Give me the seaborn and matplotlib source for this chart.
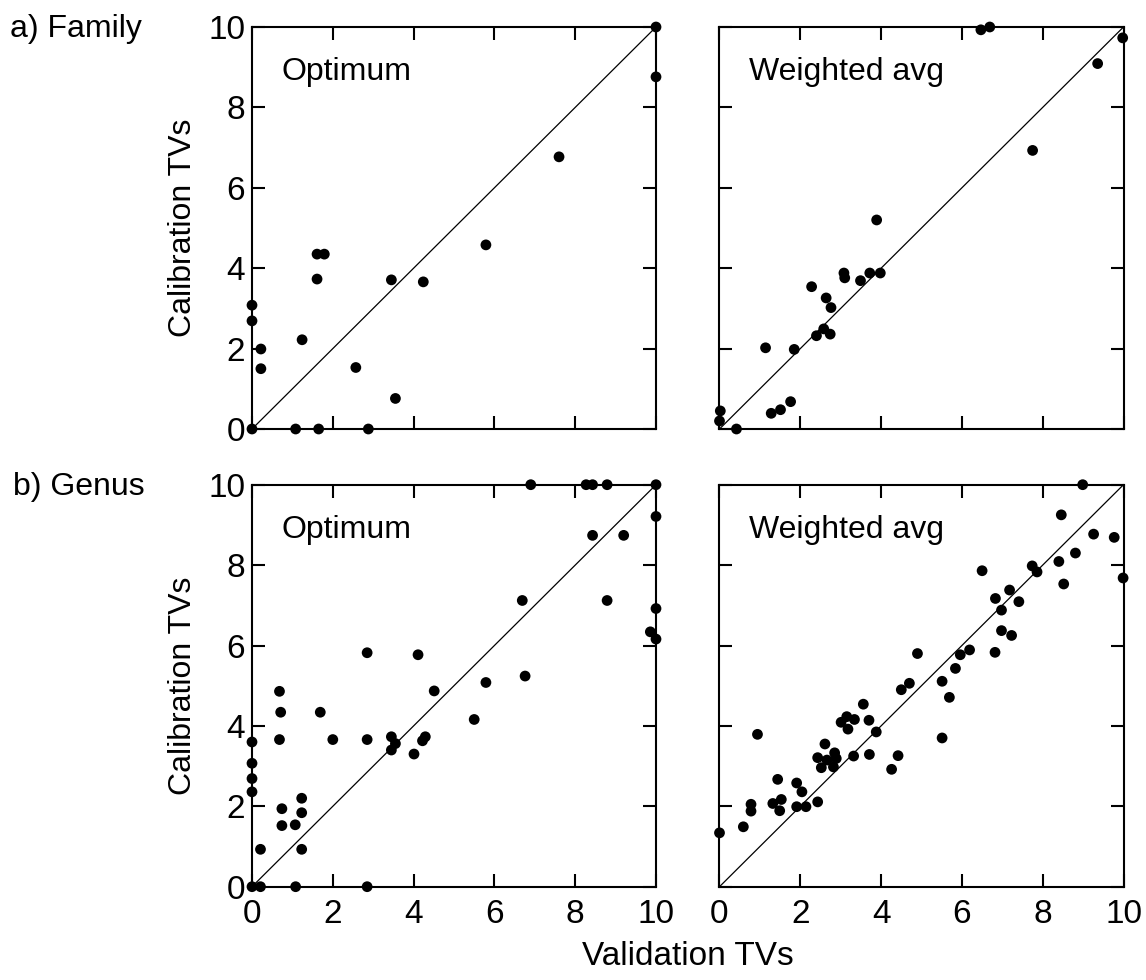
import numpy as np
import pandas as pd
import matplotlib
matplotlib.use("Agg")
import matplotlib.pyplot as plt
import seaborn as sns

# Family level, optimum method (validation vs calibration tolerance values)
fam_opt_val = [0, 1.08, 1.65, 2.88, 0, 0, 0.22, 0.22, 1.24, 1.61, 1.79, 1.61,
               2.57, 3.45, 3.55, 4.24, 5.79, 7.60, 10, 10]
fam_opt_cal = [0, 0, 0, 0, 3.08, 2.69, 1.99, 1.50, 2.22, 4.35, 4.35, 3.73,
               1.53, 3.71, 0.76, 3.66, 4.58, 6.77, 10, 8.76]

# Family level, weighted average method
fam_wa_val = [6.47, 6.69, 9.98, 9.36, 7.75, 3.89, 3.08, 3.10, 3.72, 3.98, 3.49,
              2.28, 2.64, 2.76, 2.58, 2.40, 2.74, 1.14, 1.85, 1.76, 1.51, 1.28,
              0.02, 0, 0.42]
fam_wa_cal = [9.93, 10.0, 9.73, 9.09, 6.93, 5.20, 3.88, 3.76, 3.88, 3.88, 3.69,
              3.54, 3.26, 3.02, 2.49, 2.32, 2.36, 2.02, 1.98, 0.68, 0.48, 0.39,
              0.45, 0.20, 0]

# Genus level, optimum method
gen_opt_val = [0, 0.21, 1.08, 2.85, 0.21, 0, 0, 0, 0, 0.68, 0.71, 0.68, 0.74,
               0.74, 1.07, 1.23, 1.23, 1.23, 1.69, 2.0, 2.85, 2.85, 3.45, 3.45,
               3.55, 4.01, 4.11, 4.22, 4.29, 4.51, 5.50, 5.79, 6.69, 6.76, 6.90,
               8.27, 8.43, 8.79, 8.43, 9.20, 8.79, 10, 10, 10, 9.86, 10]
gen_opt_cal = [0, 0, 0, 0, 0.93, 3.60, 3.07, 2.69, 2.36, 4.86, 4.34, 3.66, 1.94,
               1.52, 1.54, 2.20, 1.84, 0.93, 4.34, 3.66, 5.82, 3.66, 3.73, 3.40,
               3.56, 3.30, 5.77, 3.63, 3.73, 4.87, 4.16, 5.08, 7.12, 5.24, 10.0,
               10.0, 10.0, 10.0, 8.74, 8.74, 7.12, 10, 9.21, 6.92, 6.34, 6.16]

# Genus level, weighted average method
gen_wa_val = [0, 0.59, 0.78, 0.78, 0.94, 1.32, 1.53, 1.49, 1.44, 1.91, 2.04,
              1.91, 2.14, 2.43, 2.43, 2.52, 2.61, 2.66, 2.85, 2.89, 2.82, 3.01,
              3.15, 3.34, 3.18, 3.32, 3.56, 3.70, 3.71, 3.88, 4.26, 4.42, 4.50,
              4.70, 4.90, 5.51, 5.51, 5.69, 5.84, 5.96, 6.19, 6.50, 6.82, 6.83,
              6.98, 6.98, 7.23, 7.18, 7.41, 7.74, 7.86, 8.40, 8.52, 8.46, 8.81,
              8.99, 9.26, 9.77, 9.99]
gen_wa_cal = [1.34, 1.49, 2.05, 1.88, 3.79, 2.07, 2.17, 1.89, 2.67, 2.58, 2.36,
              1.99, 1.99, 2.11, 3.21, 2.96, 3.55, 3.15, 3.33, 3.19, 2.98, 4.09,
              4.23, 4.16, 3.92, 3.25, 4.54, 4.14, 3.29, 3.85, 2.92, 3.26, 4.90,
              5.06, 5.80, 3.70, 5.11, 4.71, 5.43, 5.77, 5.89, 7.86, 5.83, 7.17,
              6.88, 6.37, 6.25, 7.38, 7.09, 7.98, 7.83, 8.09, 7.53, 9.25, 8.30,
              10.0, 8.77, 8.69, 7.68]

panel_titles = ["Optimum", "Weighted avg"]
row_labels = ["a) Family", "b) Genus"]
axis_ticks = [0, 2, 4, 6, 8, 10]

sns.set_theme(style="ticks")
plt.rcParams["font.family"] = ["Liberation Sans", "DejaVu Sans"]
plt.rcParams["text.color"] = "black"
plt.rcParams["axes.labelcolor"] = "black"

W, H = 1146, 980
fig = plt.figure(figsize=(W / 100, H / 100), dpi=100)

col_x = [252 / W, 719.5 / W]
row_y = [(H - 429) / H, (H - 886.7) / H]
aw, ah = 404 / W, 402 / H

panels = [
    [(fam_opt_val, fam_opt_cal), (fam_wa_val, fam_wa_cal)],
    [(gen_opt_val, gen_opt_cal), (gen_wa_val, gen_wa_cal)],
]

for r in range(2):
    for c in range(2):
        ax = fig.add_axes([col_x[c], row_y[r], aw, ah])
        xv, yv = panels[r][c]
        df = pd.DataFrame({"val": xv, "cal": yv})
        # 1:1 reference line
        ax.axline((0, 0), slope=1, color="black", lw=0.9, zorder=1)
        sns.scatterplot(data=df, x="val", y="cal", ax=ax, color="black",
                        s=60, edgecolor="none", linewidth=0, clip_on=False,
                        zorder=3, legend=False)
        ax.set_xlim(0, 10)
        ax.set_ylim(0, 10)
        ax.set_xticks(axis_ticks)
        ax.set_yticks(axis_ticks)
        ax.set_xlabel("")
        ax.set_ylabel("")
        for sp in ax.spines.values():
            sp.set_linewidth(1.5)
            sp.set_color("black")
            sp.set_visible(True)
        ax.tick_params(axis="both", direction="in", length=9.5, width=1.5,
                       color="black", top=True, right=True,
                       labelsize=24, labelcolor="black")
        ax.tick_params(axis="x", pad=9, labelbottom=(r == 1))
        ax.tick_params(axis="y", pad=5, labelleft=(c == 0))
        ax.text(0.073, 0.868, panel_titles[c], transform=ax.transAxes,
                fontsize=23, va="baseline", ha="left", color="black")

fig.text(10 / W, 1 - 36.7 / H, row_labels[0], fontsize=23,
         va="baseline", ha="left")
fig.text(12.7 / W, 1 - 495 / H, row_labels[1], fontsize=23,
         va="baseline", ha="left")

for yc in [228, 685.5]:
    fig.text(183 / W, 1 - yc / H, "Calibration TVs", fontsize=23,
             rotation=90, va="center", ha="center")

fig.text((252 + 1123) / 2 / W, 1 - 956 / H, "Validation TVs", fontsize=24,
         va="center", ha="center")

fig.savefig("out.png", dpi=100)
